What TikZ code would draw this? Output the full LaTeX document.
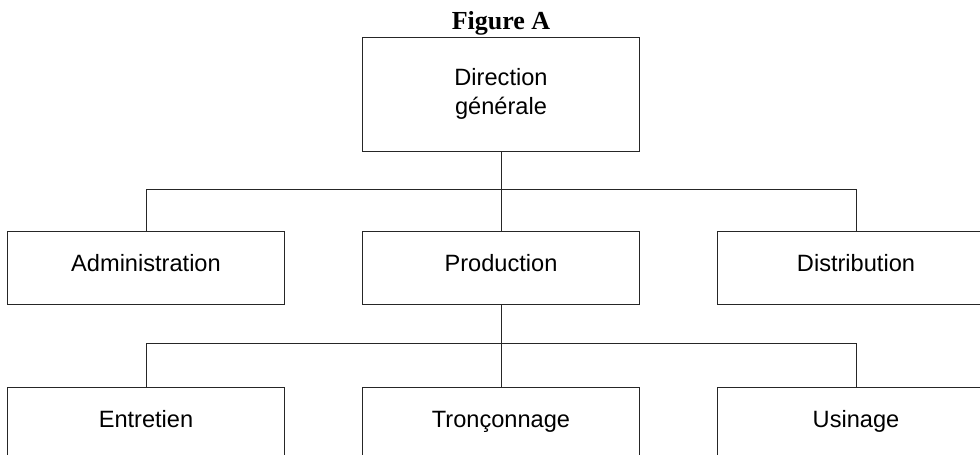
\documentclass[tikz,border=0pt]{standalone}
\usepackage{fontspec}
\setmainfont{Liberation Sans}
\newfontfamily\titlefont{Liberation Serif}
\usetikzlibrary{positioning}
\tikzstyle{frame}=[rectangle,minimum width=277pt,inner sep=0pt,text centered,
draw=black!85,line width=1pt,font=\fontsize{23.6}{29}\selectfont]
\tikzstyle{unit}=[frame,minimum height=73pt,text height=17pt,text depth=10pt]
\tikzstyle{head}=[frame,minimum height=114pt,align=center]
\tikzstyle{link}=[line width=1pt,draw=black!85]

\begin{document}
\begin{tikzpicture}[x=1pt,y=-1pt]
        \clip (0,0) rectangle (980,455);
        \node (title) [anchor=base] at (501,29) {\titlefont\bfseries\fontsize{26}{30}\selectfont Figure A};
        \node (dg) [head] at (501,94) {Direction\\générale};
        \node (prod) [unit,below=79pt of dg] {Production};
        \node (admin) [unit,left=77pt of prod] {Administration};
        \node (dist) [unit,right=77pt of prod] {Distribution};
        \node (tron) [unit,below=82pt of prod] {Tronçonnage};
        \node (entr) [unit,left=77pt of tron] {Entretien};
        \node (usin) [unit,right=77pt of tron] {Usinage};
        \coordinate (j1) at (501,189);
        \coordinate (j2) at (501,343);

        \draw [link] (dg) -- (j1);
        \draw [link] (j1) -| (admin);
        \draw [link] (j1) -- (prod);
        \draw [link] (j1) -| (dist);
        \draw [link] (prod) -- (j2);
        \draw [link] (j2) -| (entr);
        \draw [link] (j2) -- (tron);
        \draw [link] (j2) -| (usin);

    \end{tikzpicture}
\end{document}
